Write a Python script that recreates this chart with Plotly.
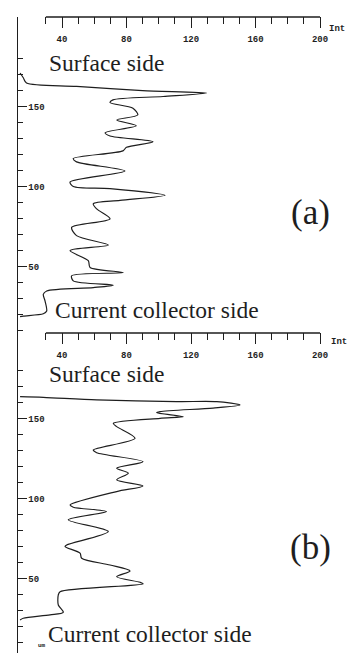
import plotly.graph_objects as go

# Panel (a): intensity (x) vs depth in um (y)
a_int = [14, 16, 18, 49, 90, 129.7, 102.7, 71.6, 69.8, 84, 87, 74, 86, 66.7, 69.8, 96.4, 80, 77.8,
         47, 49, 79, 45, 47, 69.8, 103.9, 76, 59.4, 61.5, 69.8, 46, 49, 68.7, 45, 56.3, 57.4, 78,
         46, 47, 71.8, 59.4, 30.5, 28.4, 29.5, 30.5, 28.4, 16, 14]
a_depth = [171, 168, 164.7, 162.6, 160, 158.4, 156.3, 154.2, 152.5, 149, 144.8, 141.6, 138, 133.6, 131.6, 128, 124.5, 122.3,
           117.5, 115.4, 109.7, 102.8, 100, 98.7, 94.5, 91.3, 89.2, 86, 79.8, 74.5, 69.3, 63.4, 59.9, 53.6, 49.4, 46.2,
           44.2, 41, 38.3, 36.8, 34.7, 32.6, 28.4, 22.2, 20.4, 19, 18.6]

# Panel (b)
b_int = [14, 28.4, 61.5, 111, 136, 150.4, 133.7, 100.8, 98.7, 115.2, 100.8, 71.8, 73.9, 85.3, 59.4, 61.5, 90.2, 73.9,
         81.1, 73.9, 90.2, 73.9, 45, 47, 67.6, 43.9, 68.7, 42.9, 41.9, 51.2, 52.2, 69.8, 82.2, 73.9, 88.4, 90.4,
         38.8, 37.7, 37.7, 40.8, 32.6, 16, 14]
b_depth = [163.6, 163.2, 161.6, 160.5, 160.5, 158.4, 156.5, 154.3, 153.6, 151.1, 150.1, 147, 144.9, 137.6, 130.3, 128.6, 123, 118.9,
           115.8, 111.6, 107.8, 104.3, 95.9, 94.5, 91.8, 86.6, 79.3, 70.9, 69.9, 65.8, 62.6, 58.4, 54.7, 51.1, 47.6, 46.6,
           41.7, 39.7, 33.4, 28.9, 27.2, 25.1, 24]

x_major = [40, 80, 120, 160, 200]
x_minor = [30, 50, 60, 70, 90, 100, 110, 130, 140, 150, 170, 180, 190]
y_major = [50, 100, 150]
x_title = "Int"
y_unit = "um"

W, H = 347, 653
ink = "#1e1e1e"
tickfont = dict(family="Liberation Mono", size=9, color=ink, weight="bold")
serif = "Liberation Serif"

fig = go.Figure()
for xs, ys, xa, ya in ((a_int, a_depth, "x", "y"), (b_int, b_depth, "x2", "y2")):
    fig.add_trace(go.Scatter(x=xs, y=ys, mode="lines",
                             line=dict(color=ink, width=1.2, shape="spline", smoothing=0.8),
                             xaxis=xa, yaxis=ya, showlegend=False, hoverinfo="skip"))

# x: 40 at px 62, 200 at px 320 -> 1.6125 px/unit; extend past 200 so the 200 label is kept
px_per = (320 - 62) / 160
x_lo = 40 - (62 - 18) / px_per
x_hi = 212
xdom = [18 / W, (320 + (x_hi - 200) * px_per) / W]
ya_dom = [1 - 333 / H, 1 - 17 / H]
yb_dom = [0, 1 - 333 / H]

def xax(anchor):
    return dict(domain=xdom, range=[x_lo, x_hi], side="top", anchor=anchor,
                showline=False, showgrid=False, zeroline=False,
                ticks="inside", ticklen=11, tickwidth=1.3, tickcolor=ink,
                tickvals=x_major, ticktext=[str(v) for v in x_major],
                ticklabelposition="inside", ticklabelstandoff=7, tickfont=tickfont,
                minor=dict(tickvals=x_minor, ticks="inside", ticklen=7, tickwidth=1.1, tickcolor=ink))

def yax(dom, rng, anchor):
    return dict(domain=dom, range=rng, anchor=anchor,
                showline=True, linecolor=ink, linewidth=1.3,
                showgrid=False, zeroline=False,
                ticks="inside", ticklen=9, tickwidth=1.3, tickcolor=ink,
                tickvals=y_major, ticklabelposition="inside", tickfont=tickfont,
                minor=dict(dtick=10, tick0=0, ticks="inside", ticklen=5, tickwidth=1.1, tickcolor=ink))

fig.update_layout(
    width=W, height=H, margin=dict(l=0, r=0, t=0, b=0),
    paper_bgcolor="white", plot_bgcolor="white",
    xaxis=xax("y"), yaxis=yax(ya_dom, [8.4, 206], "x"),
    xaxis2=xax("y2"), yaxis2=yax(yb_dom, [3.4, 203.4], "x2"),
)

# top axis lines spanning 30..200
for xr, ytop in (("x", ya_dom[1]), ("x2", yb_dom[1])):
    fig.add_shape(type="line", xref=xr, yref="paper", x0=30, x1=200, y0=ytop, y1=ytop,
                  line=dict(color=ink, width=1.5))

def ann(text, px, py, size, family=serif, anchor="center", bold=False):
    fig.add_annotation(text=text, x=px / W, y=1 - py / H, xref="paper", yref="paper",
                       showarrow=False, xanchor=anchor, yanchor="middle",
                       font=dict(family=family, size=size, color=ink, weight="bold" if bold else "normal"))

ann("Surface side", 47, 63, 23.5, anchor="left")
ann("Current collector side", 53, 310, 23.5, anchor="left")
ann("(a)", 310, 212, 35)
ann("Surface side", 47, 374, 23.5, anchor="left")
ann("Current collector side", 46, 634, 23.5, anchor="left")
ann("(b)", 310, 547, 35)
ann(x_title, 327, 29, 9, family="Liberation Mono", anchor="left", bold=True)
ann(x_title, 329, 342, 9, family="Liberation Mono", anchor="left", bold=True)
ann(y_unit, 36, 645, 6, family="Liberation Mono", anchor="left", bold=True)

fig.write_html("out.html", config={"displayModeBar": False},
               post_script="document.body.style.margin='0px';")
